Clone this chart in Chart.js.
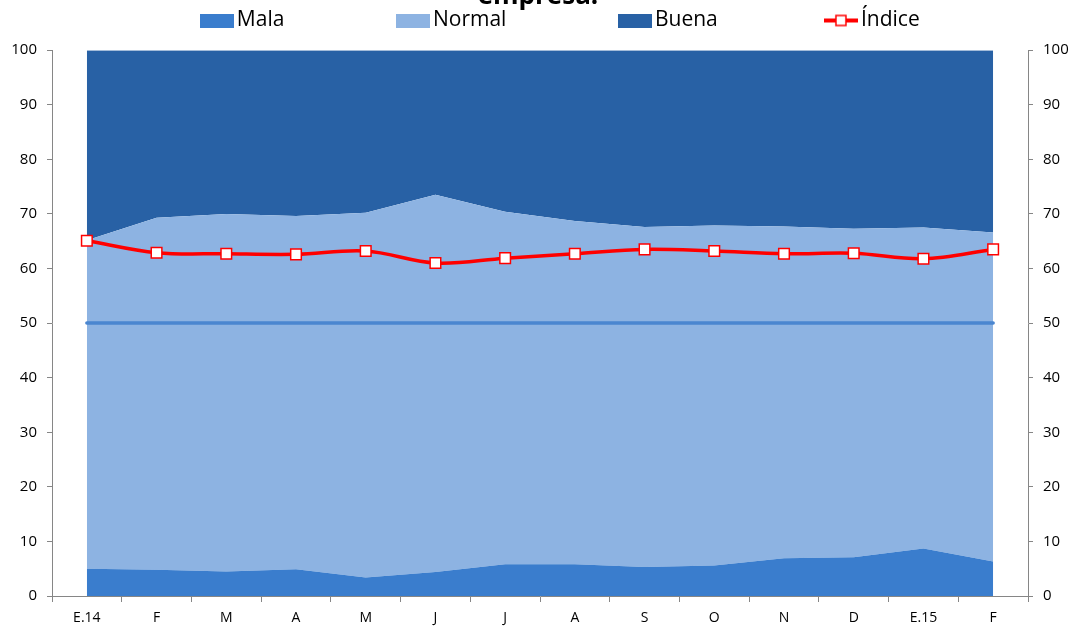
<!DOCTYPE html>
<html>
<head>
<meta charset="utf-8">
<script src="https://cdn.jsdelivr.net/npm/chart.js@4"></script>
<style>
  body { margin: 0; background: #fff; }
  #wrap { width: 1076px; height: 630px; }
</style>
</head>
<body>
<div id="wrap"><canvas id="myChart"></canvas></div>
<script>
// months, Jan 2014 .. Feb 2015
let labels = ['E.14', 'F', 'M', 'A', 'M', 'J', 'J', 'A', 'S', 'O', 'N', 'D', 'E.15', 'F'];

// shares of answers (stacked to 100)
let mala   = [5.0, 4.8, 4.5, 4.9, 3.4, 4.4, 5.8, 5.8, 5.3, 5.6, 6.9, 7.1, 8.7, 6.3];
let normal = [60.2, 64.5, 65.5, 64.7, 66.8, 69.1, 64.6, 62.9, 62.3, 62.3, 60.8, 60.2, 58.8, 60.3];
let buena  = [34.8, 30.7, 30.0, 30.4, 29.8, 26.5, 29.6, 31.3, 32.4, 32.1, 32.3, 32.7, 32.5, 33.4];

// index line and the 50 reference
let indice = [65.1, 62.9, 62.7, 62.6, 63.2, 61.0, 61.9, 62.7, 63.5, 63.2, 62.7, 62.8, 61.8, 63.5];
let fifty  = [50, 50, 50, 50, 50, 50, 50, 50, 50, 50, 50, 50, 50, 50];

const FONT = "'Open Sans', sans-serif";
const colMala = '#3a7dcd';
const colNormal = '#8db3e2';
const colBuena = '#2861a5';

// trailing blanks widen the legend items so they spread like the original
const legendPads = [' '.repeat(20), ' '.repeat(20), ' '.repeat(19), ''];

// little pictures for the legend
function boxIcon(color) {
	const c = document.createElement('canvas');
	c.width = 34; c.height = 14;
	const g = c.getContext('2d');
	g.fillStyle = color;
	g.fillRect(0, 0, 34, 14);
	return c;
}

function lineIcon() {
	const c = document.createElement('canvas');
	c.width = 34; c.height = 14;
	const g = c.getContext('2d');
	g.fillStyle = '#ff0000';
	g.fillRect(0, 5, 34, 4);
	g.fillStyle = '#ffffff';
	g.fillRect(12, 2, 10, 10);
	g.strokeStyle = '#ff0000';
	g.lineWidth = 1.5;
	g.strokeRect(12, 2, 10, 10);
	return c;
}

const icons = [boxIcon(colMala), boxIcon(colNormal), boxIcon(colBuena), lineIcon()];

// title is cut by the top edge, only its lower part shows
const titlePlugin = {
	id: 'cutTitle',
	afterDraw(chart) {
		const ctx = chart.ctx;
		ctx.save();
		ctx.font = 'bold 26px ' + FONT;
		ctx.fillStyle = '#000';
		ctx.textAlign = 'center';
		ctx.textBaseline = 'alphabetic';
		ctx.fillText('empresa.', 538, 4);
		ctx.restore();
	}
};

// push the legend row a bit to the right
const legendShift = {
	id: 'legendShift',
	afterLayout(chart) {
		if (chart.legend) chart.legend.left += 51;
	}
};

const ctx = document.getElementById('myChart').getContext('2d');
let myChart = new Chart(ctx, {
	type: 'line',
	data: {
		labels: labels,
		datasets: [{
			label: 'Mala',
			data: mala,
			yAxisID: 'y',
			fill: 'origin',
			backgroundColor: colMala,
			borderWidth: 0,
			pointRadius: 0,
			tension: 0,
			order: 3
		}, {
			label: 'Normal',
			data: normal,
			yAxisID: 'y',
			fill: '-1',
			backgroundColor: colNormal,
			borderWidth: 0,
			pointRadius: 0,
			tension: 0,
			order: 3
		}, {
			label: 'Buena',
			data: buena,
			yAxisID: 'y',
			fill: '-1',
			backgroundColor: colBuena,
			borderWidth: 0,
			pointRadius: 0,
			tension: 0,
			order: 3
		}, {
			label: 'Índice',
			data: indice,
			yAxisID: 'y2',
			fill: false,
			borderColor: '#ff0000',
			borderWidth: 3.5,
			tension: 0.35,
			pointStyle: 'rect',
			pointRadius: 7.5,
			pointBackgroundColor: '#ffffff',
			pointBorderColor: '#ff0000',
			pointBorderWidth: 1.5,
			order: 1
		}, {
			label: 'ref50',
			data: fifty,
			yAxisID: 'y2',
			fill: false,
			borderColor: '#4a86d0',
			borderWidth: 3.5,
			borderCapStyle: 'round',
			pointRadius: 0,
			order: 2
		}]
	},
	options: {
		responsive: true,
		maintainAspectRatio: false,
		animation: false,
		layout: { padding: 0 },
		plugins: {
			title: { display: false },
			// empty subtitle used as a spacer between legend and plot
			subtitle: {
				display: true,
				text: ' ',
				weight: 500,
				font: { size: 1 },
				padding: { top: 0, bottom: 8 }
			},
			tooltip: { enabled: false },
			legend: {
				position: 'top',
				labels: {
					font: { family: FONT, size: 21 },
					color: '#000',
					usePointStyle: true,
					pointStyleWidth: 19,
					padding: 10,
					sort: (a, b) => a.datasetIndex - b.datasetIndex,
					generateLabels(chart) {
						const items = Chart.defaults.plugins.legend.labels.generateLabels(chart);
						return items.filter(it => it.datasetIndex < 4).map(it => {
							it.pointStyle = icons[it.datasetIndex];
							it.text = it.text + legendPads[it.datasetIndex];
							return it;
						});
					}
				}
			}
		},
		scales: {
			x: {
				offset: true,
				grid: { offset: true, drawOnChartArea: false, tickLength: 6, color: '#868686' },
				border: { color: '#868686' },
				ticks: { color: '#000', font: { family: FONT, size: 14 }, padding: 8, maxRotation: 0, autoSkip: false },
				afterFit(scale) { scale.height = 34; }
			},
			y: {
				position: 'left',
				stacked: true,
				min: 0,
				max: 100,
				grid: { drawOnChartArea: false, tickLength: 5, color: '#868686' },
				border: { color: '#868686' },
				ticks: { stepSize: 10, color: '#000', font: { family: FONT, size: 15 }, padding: 10 },
				afterFit(scale) { scale.width = 52; }
			},
			y2: {
				position: 'right',
				min: 0,
				max: 100,
				grid: { drawOnChartArea: false, tickLength: 5, color: '#868686' },
				border: { color: '#868686' },
				ticks: { stepSize: 10, color: '#000', font: { family: FONT, size: 15 }, padding: 10 },
				afterFit(scale) { scale.width = 48; }
			}
		}
	},
	plugins: [titlePlugin, legendShift]
});
</script>
</body>
</html>
